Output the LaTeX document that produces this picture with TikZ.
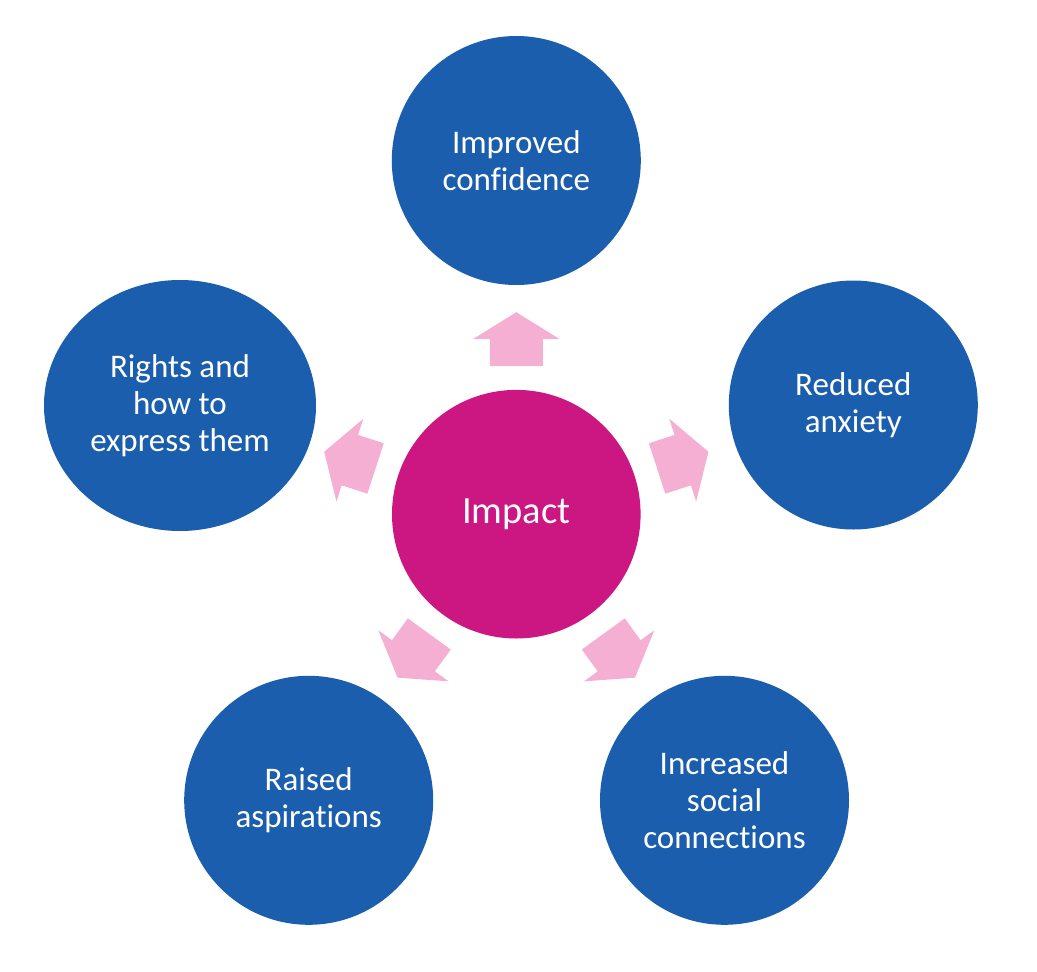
\documentclass[tikz,border=0pt]{standalone}
\usepackage{fontspec}
\setmainfont{Carlito}[Ligatures=NoCommon]
\usetikzlibrary{shapes.geometric}
\definecolor{blueC}{RGB}{27,94,173}
\definecolor{magC}{RGB}{204,22,130}
\definecolor{pinkA}{RGB}{244,175,210}
\begin{document}
\begin{tikzpicture}[x=1pt,y=-1pt,
  outer/.style={circle, fill=blueC, minimum size=249pt, inner sep=0pt, text=white, align=center, font=\fontsize{33}{37}\selectfont},
  hub/.style={circle, fill=magC, minimum size=248.6pt, inner sep=0pt, text=white, font=\fontsize{38.5}{44}\selectfont},
  blockarrow/.style={fill=pinkA, draw=none}]
\useasboundingbox (0,0) rectangle (1037,972);
\node[hub] (impact) at (516.3,514.2) {Impact};
\node[outer] (conf) at (516.3,160.5) {Improved\\confidence};
\node[outer] (anx) at (853.3,405) {Reduced\\anxiety};
\node[outer] (soc) at (724.5,800.3) {Increased\\social\\connections};
\node[outer] (asp) at (308.7,800.3) {Raised\\aspirations};
\node[outer, ellipse, minimum width=272pt, minimum height=251pt] (rights) at (180,405.5) {Rights and\\how to\\express them};
\foreach \a in {0,-72,-144,-216,-288}
  \fill[blockarrow, shift={(impact.center)}, rotate=\a] (0,-202) -- (43.5,-175) -- (26.5,-175) -- (26.5,-148) -- (-26.5,-148) -- (-26.5,-175) -- (-43.5,-175) -- cycle;
\end{tikzpicture}
\end{document}
